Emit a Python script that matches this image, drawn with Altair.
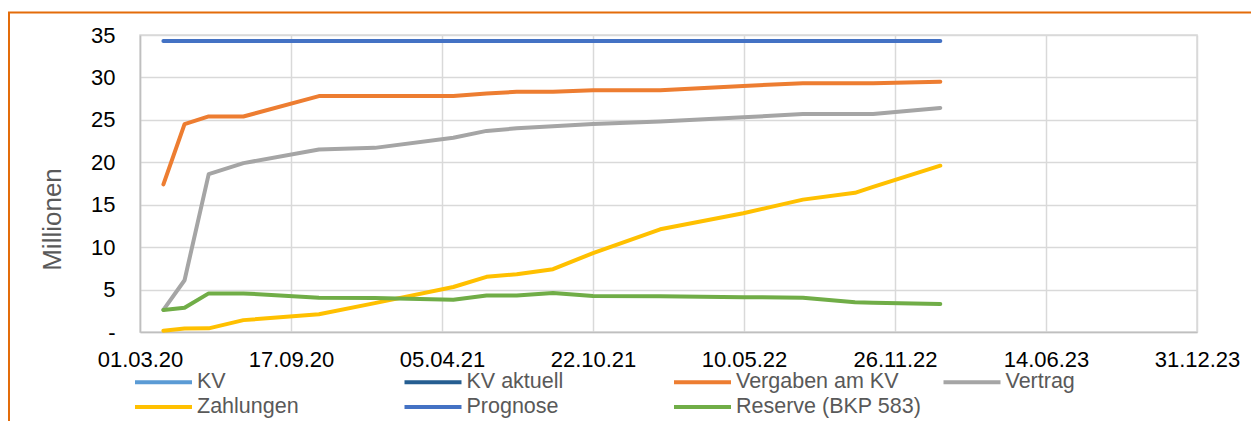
import altair as alt
import pandas as pd

# ---- data ----
dates = ["2020-04-01", "2020-04-29", "2020-05-31", "2020-07-16", "2020-10-24",
         "2021-01-06", "2021-04-20", "2021-06-03", "2021-07-13", "2021-08-30",
         "2021-10-22", "2022-01-19", "2022-05-09", "2022-07-27", "2022-10-04",
         "2022-10-28", "2023-01-25"]

vergaben = [17.4, 24.5, 25.4, 25.4, 27.8, 27.8, 27.8, 28.1, 28.3, 28.3,
            28.5, 28.5, 29.0, 29.3, 29.3, 29.3, 29.5]
vertrag = [2.6, 6.1, 18.6, 19.9, 21.5, 21.7, 22.9, 23.7, 24.0, 24.25,
           24.5, 24.8, 25.3, 25.7, 25.7, 25.7, 26.4]
zahlungen = [0.15, 0.4, 0.43, 1.4, 2.1, 3.4, 5.3, 6.5, 6.8, 7.4,
             9.3, 12.1, 14.0, 15.6, 16.4, 17.1, 19.6]
prognose = [34.3, 34.3, 34.3, 34.3, 34.3, 34.3, 34.3, 34.3, 34.3, 34.3,
            34.3, 34.3, 34.3, 34.3, 34.3, 34.3, 34.3]
reserve = [2.6, 2.85, 4.55, 4.55, 4.05, 4.0, 3.8, 4.3, 4.3, 4.6,
           4.25, 4.2, 4.1, 4.05, 3.5, 3.45, 3.3]

series_names = ["KV", "KV aktuell", "Vergaben am KV", "Vertrag",
                "Zahlungen", "Prognose", "Reserve (BKP 583)"]
series_colors = ["#5B9BD5", "#255E91", "#ED7D31", "#A5A5A5",
                 "#FFC000", "#4472C4", "#70AD47"]

x_ticks = [(2020, 3, 1), (2020, 9, 17), (2021, 4, 5), (2021, 10, 22),
           (2022, 5, 10), (2022, 11, 26), (2023, 6, 14), (2023, 12, 31)]
y_ticks = [0, 5, 10, 15, 20, 25, 30, 35]

# ---- build long table ----
rows = []
for name, vals in [("Vergaben am KV", vergaben), ("Vertrag", vertrag),
                   ("Zahlungen", zahlungen), ("Prognose", prognose),
                   ("Reserve (BKP 583)", reserve)]:
    for d, v in zip(dates, vals):
        rows.append({"date": d, "value": v, "series": name})
df = pd.DataFrame(rows)

FONT = "Liberation Sans"

def dt(t):
    return alt.DateTime(year=t[0], month=t[1], date=t[2], utc=True)

lines = alt.Chart(df).mark_line(strokeWidth=4, strokeCap="round", strokeJoin="round").encode(
    x=alt.X("date:T",
            scale=alt.Scale(type="utc", domain=[dt(x_ticks[0]), dt(x_ticks[-1])]),
            axis=alt.Axis(values=[dt(t) for t in x_ticks],
                          labelExpr="utcFormat(datum.value, '%d.%m.%y')",
                          title=None, grid=True,
                          gridColor="#D9D9D9", gridWidth=1.5,
                          domainColor="#BFBFBF", domainWidth=1.5,
                          ticks=False, tickSize=0, labelPadding=17,
                          labelFontSize=22, labelColor="#000000", labelFont=FONT,
                          labelOverlap=False, labelFlush=False)),
    y=alt.Y("value:Q",
            scale=alt.Scale(domain=[0, 35], nice=False),
            axis=alt.Axis(values=y_ticks, title="Millionen",
                          labelExpr="datum.value == 0 ? '-\u00a0\u00a0' : format(datum.value, 'd')",
                          grid=True, gridColor="#D9D9D9", gridWidth=1.5,
                          domainColor="#BFBFBF", domainWidth=1.5,
                          ticks=False, tickSize=0, labelPadding=25,
                          labelFontSize=22, labelColor="#000000", labelFont=FONT,
                          titleFont=FONT, titleFontSize=26, titleFontWeight="normal",
                          titleColor="#595959", titleAngle=270, titleX=-88, titleY=184,
                          titleBaseline="middle", titleAlign="center")),
    color=alt.Color("series:N",
                    scale=alt.Scale(domain=series_names, range=series_colors),
                    legend=alt.Legend(title=None, orient="none", legendX=-7, legendY=335,
                                      columns=4, direction="horizontal",
                                      gridAlign="all", columnPadding=13.5, rowPadding=2,
                                      symbolType="M-1,0H4.7", symbolSize=400,
                                      symbolStrokeWidth=4, labelOffset=40,
                                      labelFont=FONT, labelFontSize=21.5,
                                      labelColor="#595959", labelLimit=400,
                                      padding=0)),
    order=alt.value(0),
)

border = alt.Chart(pd.DataFrame({"a": [0]})).mark_rect(
    filled=False, stroke="#E36C0A", strokeWidth=2).encode(
    x=alt.value(-131), x2=alt.value(1300), y=alt.value(-22.5), y2=alt.value(600))

chart = alt.layer(border, lines).properties(
    width=1057, height=297,
    autosize=alt.AutoSizeParams(type="none"),
    padding={"left": 132, "top": 27, "right": 54, "bottom": 89},
).configure_view(stroke="#D9D9D9", strokeWidth=1.5)

chart.save("out.html", embed_options={"renderer": "svg", "actions": False})
